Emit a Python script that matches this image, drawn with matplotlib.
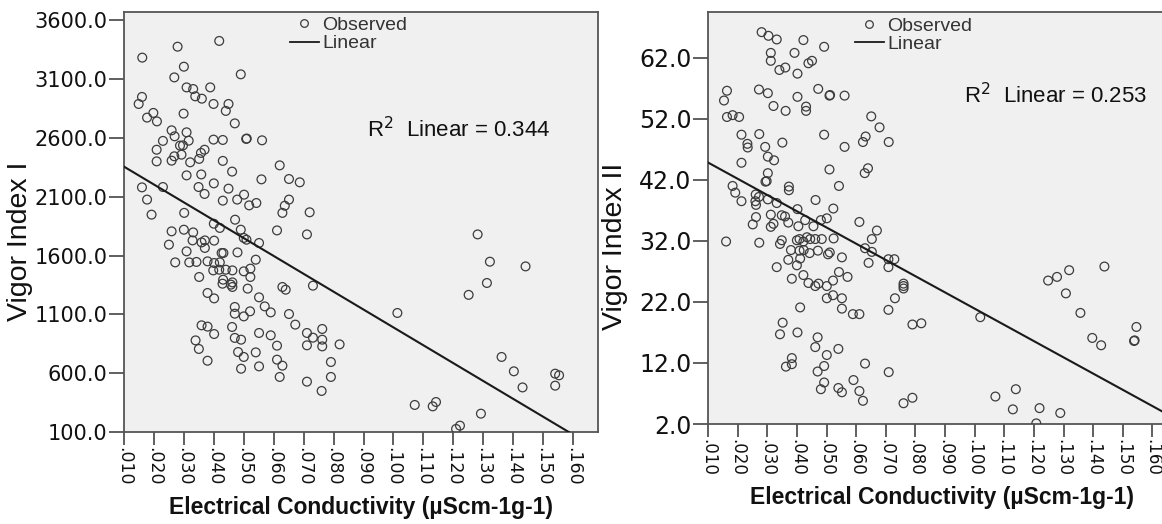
import numpy as np
import matplotlib
matplotlib.use("Agg")
import matplotlib.pyplot as plt
from matplotlib.lines import Line2D

# ---- data ----
ec_1 = [
    .0161, .0279, .0418, .0300, .0268, .0490, .0160, .0149, .0309, .0331,
    .0338, .0360, .0388, .0399, .0449, .0440, .0177, .0198, .0210, .0299,
    .0470, .0259, .0269, .0309, .0230, .0209, .0209, .0259, .0268, .0287,
    .0297, .0292, .0316, .0321, .0351, .0357, .0369, .0399, .0430, .0508,
    .0510, .0561, .0430, .0461, .0309, .0358, .0400, .0349, .0369, .0559,
    .0620, .0651, .0160, .0230, .0177, .0301, .0192, .0449, .0430, .0478,
    .0501, .0518, .0542, .0629, .0637, .0651, .0471, .0687, .0720, .0611,
    .0711, .0400, .0420, .0490, .0500, .0509, .0551, .0259, .0300, .0331,
    .0329, .0359, .0370, .0370, .0401, .0250, .0309, .0271, .0318, .0342,
    .0379, .0401, .0420, .0426, .0432, .0479, .0398, .0418, .0440, .0462,
    .0500, .0522, .0540, .0522, .0351, .0429, .0457, .0462, .0462, .0431,
    .0513, .0629, .0640, .0731, .0379, .0401, .0551, .0570, .0590, .0470,
    .0470, .0500, .0521, .0651, .0672, .0359, .0379, .0401, .0461, .0470,
    .0491, .0551, .0590, .0339, .0350, .0379, .0481, .0500, .0540, .0551,
    .0491, .0611, .0611, .0629, .0620, .0711, .0731, .0762, .0762, .0762,
    .0711, .0820, .0791, .0791, .0711, .0760, .1013, .1281, .1322, .1441,
    .1312, .1251, .1071, .1131, .1142, .1209, .1222, .1292, .1361, .1402,
    .1431, .1540, .1553, .1540,
]
vigor_1 = [
    3283, 3376, 3425, 3206, 3115, 3141, 2949, 2889, 3030, 3016,
    2954, 2934, 3030, 2889, 2889, 2830, 2773, 2813, 2741, 2807,
    2724, 2665, 2614, 2648, 2575, 2500, 2401, 2407, 2444, 2535,
    2537, 2458, 2577, 2393, 2422, 2473, 2500, 2586, 2583, 2592,
    2595, 2580, 2405, 2314, 2282, 2290, 2214, 2183, 2124, 2248,
    2367, 2251, 2180, 2183, 2076, 1963, 1948, 2169, 2067, 2076,
    2118, 2027, 2047, 1963, 2024, 2076, 1905, 2223, 1968, 1814,
    1780, 1871, 1835, 1820, 1750, 1735, 1707, 1806, 1820, 1797,
    1729, 1712, 1729, 1665, 1727, 1693, 1636, 1542, 1542, 1546,
    1551, 1537, 1542, 1622, 1622, 1627, 1474, 1480, 1480, 1474,
    1466, 1489, 1565, 1418, 1418, 1361, 1353, 1333, 1372, 1395,
    1319, 1333, 1310, 1344, 1282, 1236, 1245, 1168, 1117, 1163,
    1106, 1083, 1126, 1103, 1013, 1007, 996, 933, 993, 900,
    885, 942, 922, 879, 806, 706, 780, 738, 777, 658,
    638, 834, 715, 664, 568, 942, 902, 976, 885, 828,
    837, 845, 695, 568, 528, 449, 1112, 1780, 1548, 1508,
    1367, 1266, 330, 318, 355, 126, 154, 256, 738, 616,
    479, 596, 582, 494,
]
ec_2 = [
    .0281, .0304, .0332, .0422, .0492, .0312, .0312, .0392, .0341,
    .0361, .0402, .0439, .0451, .0164, .0154, .0272, .0302, .0402, .0472,
    .0510, .0512, .0561, .0321, .0362, .0431, .0431, .0164, .0183, .0205,
    .0651, .0679, .0213, .0273, .0233, .0234, .0293, .0351, .0492, .0561,
    .0623, .0632, .0710, .0302, .0323, .0213, .0510, .0629, .0640, .0302,
    .0298, .0294, .0373, .0373, .0542, .0183, .0192, .0213, .0261, .0272,
    .0260, .0262, .0302, .0332, .0463, .0523, .0402, .0262, .0251, .0312,
    .0321, .0312, .0349, .0360, .0371, .0405, .0428, .0456, .0481, .0501,
    .0161, .0273, .0349, .0343, .0400, .0409, .0422, .0434, .0445, .0462,
    .0484, .0524, .0380, .0409, .0423, .0443, .0471, .0505, .0511, .0371,
    .0411, .0400, .0552, .0332, .0383, .0422, .0439, .0462, .0473, .0501,
    .0522, .0542, .0571, .0501, .0522, .0552, .0552, .0411, .0589, .0611,
    .0709, .0731, .0611, .0653, .0670, .0630, .0653, .0642, .0709, .0729,
    .0709, .0352, .0343, .0402, .0363, .0383, .0383, .0470, .0462, .0501,
    .0540, .0492, .0470, .0492, .0481, .0540, .0552, .0591, .0611, .0623,
    .0630, .0710, .0760, .0790, .0760, .0760, .0760, .0790, .0820, .1019,
    .1070, .1129, .1139, .1219, .1289, .1208, .1248, .1278, .1319, .1308,
    .1357, .1438, .1397, .1427, .1546, .1538, .1540,
]
vigor_2 = [
    66.2, 65.6, 65.0, 64.9, 63.8, 62.8, 61.5, 62.8, 60.0,
    60.4, 59.4, 61.1, 61.5, 56.6, 55.0, 56.8, 56.2, 55.6, 56.9,
    55.8, 55.9, 55.8, 54.1, 53.3, 54.0, 53.3, 52.3, 52.6, 52.3,
    52.4, 50.6, 49.4, 49.5, 47.9, 47.3, 47.4, 48.1, 49.4, 47.4,
    48.2, 49.1, 48.2, 45.8, 45.2, 44.8, 43.7, 43.1, 43.9, 43.1,
    41.8, 41.7, 40.9, 40.3, 41.0, 41.0, 39.9, 38.5, 39.6, 39.2,
    38.5, 37.9, 38.8, 38.2, 38.7, 37.3, 37.2, 35.9, 34.7, 36.3,
    34.8, 34.3, 36.2, 36.0, 35.0, 34.4, 35.4, 34.4, 35.4, 35.7,
    31.9, 31.7, 32.1, 31.5, 32.1, 32.3, 31.9, 32.6, 32.3, 32.3,
    32.3, 32.4, 30.5, 30.4, 30.5, 30.0, 30.4, 29.8, 30.1, 28.9,
    29.1, 28.0, 29.3, 27.7, 25.8, 26.4, 25.1, 24.6, 25.0, 24.6,
    25.5, 26.9, 26.1, 22.6, 23.1, 22.6, 20.9, 21.1, 20.0, 20.0,
    20.7, 22.6, 35.1, 32.3, 33.7, 30.8, 30.2, 28.4, 29.0, 29.0,
    27.7, 18.6, 16.7, 17.0, 11.4, 12.8, 11.8, 16.2, 14.6, 13.3,
    14.3, 11.5, 10.6, 8.8, 7.7, 7.9, 7.2, 9.2, 7.4, 5.8,
    11.9, 10.5, 5.4, 6.3, 25.0, 24.6, 24.2, 18.3, 18.5, 19.5,
    6.5, 4.4, 7.7, 4.6, 3.8, 2.1, 25.5, 26.1, 27.2, 23.4,
    20.2, 27.8, 16.1, 14.9, 17.9, 15.6, 15.7,
]

# linear fits as printed on the chart (intercept, slope)
fit_1 = (2508.0, -15190.0)
fit_2 = (47.5, -266.0)
r2_1 = 0.344
r2_2 = 0.253

xticks = [.010, .020, .030, .040, .050, .060, .070, .080,
          .090, .100, .110, .120, .130, .140, .150, .160]
yticks_1 = [100, 600, 1100, 1600, 2100, 2600, 3100, 3600]
yticks_2 = [2, 12, 22, 32, 42, 52, 62]

W, H = 1162, 524
fig = plt.figure(figsize=(W / 100, H / 100), dpi=100)
fig.patch.set_facecolor("white")

ax1 = fig.add_axes([124 / W, 1 - 432 / H, (598 - 124) / W, (432 - 12) / H])
ax2 = fig.add_axes([708 / W, 1 - 424 / H, (1177 - 708) / W, (424 - 12) / H])

edge = "#3c3c3c"
panels = [
    (ax1, ec_1, vigor_1, fit_1, r2_1, yticks_1, (100, 3671), "Vigor Index I",
     15, 12.5, (0.707, 0.719), (-0.192, 0.455), (0.35, 0.99)),
    (ax2, ec_2, vigor_2, fit_2, r2_2, yticks_2, (2, 69.5), "Vigor Index II",
     17, 12, (0.74, 0.796), (-0.171, 0.43), (0.313, 0.988)),
]

for ax, x, y, fit, r2, yt, ylim, ylab, ysz, xsz, r2pos, lblpos, legpos in panels:
    ax.set_facecolor("#f0f0f0")
    ax.scatter(x, y, s=40, facecolors="none", edgecolors=edge, linewidths=0.9,
               zorder=3)
    xs = np.array([0.0, 0.2])
    ax.plot(xs, fit[0] + fit[1] * xs, color="#1a1a1a", lw=1.5, zorder=4)

    ax.set_xlim(0.010, 0.1683)
    ax.set_ylim(*ylim)
    ax.set_xticks(xticks)
    ax.set_xticklabels([f"{v:.3f}"[1:] for v in xticks], rotation=-90,
                       fontsize=xsz, family="DejaVu Sans", color="#111")
    ax.set_yticks(yt)
    ax.set_yticklabels([f"{v:.1f}" for v in yt], fontsize=ysz,
                       family="DejaVu Sans", color="#111")
    ax.tick_params(axis="y", length=11, width=1.2, color="#444", pad=1)
    ax.tick_params(axis="x", length=9, width=1.2, color="#444", pad=2)
    for sp in ax.spines.values():
        sp.set_color("#555555")
        sp.set_linewidth(1.3)

    ax.set_ylabel(ylab, fontsize=20.5, family="Liberation Sans", color="#111")
    ax.yaxis.set_label_coords(*lblpos)
    ax.set_xlabel("Electrical Conductivity (µScm-1g-1)", fontsize=16.5,
                  family="Liberation Sans", fontweight="bold", color="#111",
                  labelpad=7)

    ax.text(r2pos[0], r2pos[1], f"R$^{{2}}$  Linear = {r2:.3f}",
            transform=ax.transAxes, ha="center", va="center", fontsize=16,
            family="Liberation Sans", color="#111")

    handles = [
        Line2D([], [], ls="none", marker="o", markersize=5.5,
               markerfacecolor="none", markeredgecolor=edge, markeredgewidth=0.9),
        Line2D([], [], color="#1a1a1a", lw=1.3),
    ]
    ax.legend(handles, ["Observed", "Linear"], loc="upper left",
              bbox_to_anchor=legpos, frameon=False,
              prop={"family": "Liberation Sans", "size": 14},
              labelcolor="#333", handlelength=1.5, handletextpad=0.15,
              labelspacing=0.05, borderpad=0, borderaxespad=0)

fig.savefig("out.png", dpi=100, facecolor="white")
